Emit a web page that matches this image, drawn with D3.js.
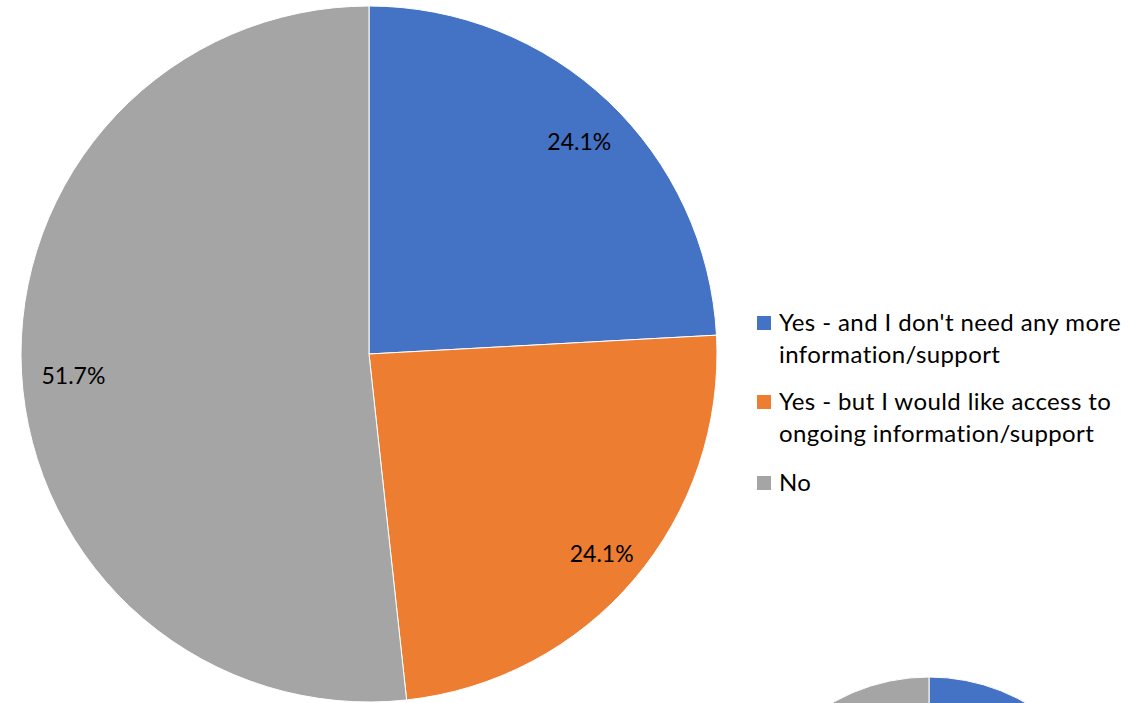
<!DOCTYPE html>
<html>
<head>
<meta charset="utf-8">
<script src="https://cdn.jsdelivr.net/npm/d3@7"></script>
<style>
  body { margin: 0; background: #fff; }
  svg { display: block; }
  text { font-family: Lato, "Open Sans", sans-serif; fill: #000; }
</style>
</head>
<body>
<div id="chart"></div>
<script>
// survey answers (29 respondents)
var categories = ["Yes - and I don't need any more information/support",
                  "Yes - but I would like access to ongoing information/support",
                  "No"];
var counts = [7, 7, 15];
var legendLines = [["Yes - and I don't need any more", "information/support"],
                   ["Yes - but I would like access to", "ongoing information/support"],
                   ["No"]];
var colors = ["#4472c4", "#ed7d31", "#a5a5a5"];

var width = 1143, height = 703;

var svg = d3.select("#chart").append("svg")
  .attr("width", width)
  .attr("height", height);

var total = d3.sum(counts);
var data = categories.map(function (c, i) { return { name: c, value: counts[i], color: colors[i] }; });

var pie = d3.pie().sort(null).value(function (d) { return d.value; });
var arcs = pie(data);

// second chart peeking in at the bottom right
var small = svg.append("g").attr("transform", "translate(929,871)");
var smallArc = d3.arc().innerRadius(0).outerRadius(194);
small.selectAll("path")
  .data(arcs)
  .enter().append("path")
  .attr("d", smallArc)
  .attr("fill", function (d) { return d.data.color; })
  .attr("stroke", "#fff")
  .attr("stroke-width", 1);

// main pie
var r = 348;
var g = svg.append("g").attr("transform", "translate(369,354)");
var arc = d3.arc().innerRadius(0).outerRadius(r);
var labelArc = d3.arc().innerRadius(300).outerRadius(300);

g.selectAll("path")
  .data(arcs)
  .enter().append("path")
  .attr("d", arc)
  .attr("fill", function (d) { return d.data.color; })
  .attr("stroke", "#fff")
  .attr("stroke-width", 1);

var fmt = d3.format(".1%");
g.selectAll(".lbl")
  .data(arcs)
  .enter().append("text")
  .attr("class", "lbl")
  .attr("x", function (d) { return labelArc.centroid(d)[0] + 4; })
  .attr("y", function (d) { return labelArc.centroid(d)[1] + 6; })
  .attr("dy", "0.35em")
  .attr("text-anchor", "middle")
  .style("font-size", "23px")
  .style("fill", "#000")
  .text(function (d) { return fmt(d.data.value / total); });

// legend
var legendTops = [331, 410, 491];
var legend = svg.append("g").attr("transform", "translate(757,0)");
var items = legend.selectAll(".item")
  .data(data)
  .enter().append("g")
  .attr("class", "item")
  .attr("transform", function (d, i) { return "translate(0," + legendTops[i] + ")"; });

items.append("rect")
  .attr("x", 0)
  .attr("y", -15)
  .attr("width", 14)
  .attr("height", 14)
  .attr("fill", function (d) { return d.color; });

items.append("text")
  .attr("x", 22)
  .style("font-size", "24px")
  .style("letter-spacing", "0.4px")
  .selectAll("tspan")
  .data(function (d, i) { return legendLines[i]; })
  .enter().append("tspan")
  .attr("x", 22)
  .attr("dy", function (d, i) { return i === 0 ? 0 : 32; })
  .text(function (d) { return d; });
</script>
</body>
</html>
